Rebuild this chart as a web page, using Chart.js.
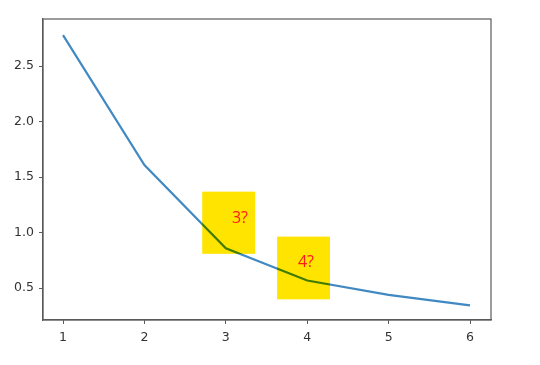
<!DOCTYPE html>
<html>
<head>
<meta charset="utf-8">
<script src="https://cdn.jsdelivr.net/npm/chart.js@4"></script>
<style>
html,body{margin:0;padding:0;background:#fff;}
#wrap{width:540px;height:365px;}
</style>
</head>
<body>
<div id="wrap"><canvas id="c" width="540" height="365"></canvas></div>
<script>
// Data
const kValues = [1, 2, 3, 4, 5, 6];
const scores = [2.78, 1.61, 0.86, 0.57, 0.44, 0.345];
const xTickValues = [1, 2, 3, 4, 5, 6];
const yTickValues = [0.5, 1.0, 1.5, 2.0, 2.5];
// Annotation notes (data coordinates): label, box x range, box y range, text anchor
const noteLabels = ['3?', '4?'];
const noteX = [[2.71, 3.36], [3.63, 4.28]];
const noteY = [[0.81, 1.37], [0.40, 0.965]];
const noteTextX = [3.174, 3.985];
const noteTextY = [1.125, 0.732];

const frameColor = '#5a5a5a';

const notesPlugin = {
  id: 'notes',
  afterDatasetsDraw(chart) {
    const {ctx, scales: {x, y}, chartArea} = chart;
    ctx.save();
    ctx.strokeStyle = frameColor;
    ctx.lineWidth = 1.2;
    ctx.strokeRect(chartArea.left, chartArea.top, chartArea.right - chartArea.left, chartArea.bottom - chartArea.top);
    for (let i = 0; i < noteLabels.length; i++) {
      const x0 = x.getPixelForValue(noteX[i][0]);
      const x1 = x.getPixelForValue(noteX[i][1]);
      const y0 = y.getPixelForValue(noteY[i][1]);
      const y1 = y.getPixelForValue(noteY[i][0]);
      ctx.globalCompositeOperation = 'multiply';
      ctx.fillStyle = '#ffe400';
      ctx.fillRect(x0, y0, x1 - x0, y1 - y0);
      ctx.globalCompositeOperation = 'source-over';
      ctx.fillStyle = '#ff1a1a';
      ctx.font = '16px "Open Sans", "Noto Sans", sans-serif';
      ctx.textAlign = 'center';
      ctx.textBaseline = 'middle';
      ctx.fillText(noteLabels[i], x.getPixelForValue(noteTextX[i]), y.getPixelForValue(noteTextY[i]));
    }
    ctx.restore();
  }
};

new Chart(document.getElementById('c'), {
  type: 'line',
  data: {
    datasets: [{
      data: kValues.map((k, i) => ({x: k, y: scores[i]})),
      borderColor: '#4189c2',
      borderWidth: 2.2,
      pointRadius: 0,
      tension: 0,
      fill: false
    }]
  },
  options: {
    responsive: false,
    animation: false,
    devicePixelRatio: 1,
    layout: {padding: {left: 0, top: 19, right: 49, bottom: 0}},
    plugins: {legend: {display: false}, tooltip: {enabled: false}},
    scales: {
      x: {
        type: 'linear',
        min: 0.754,
        max: 6.258,
        afterFit(s) { s.height = 45; },
        afterBuildTicks(s) { s.ticks = xTickValues.map(v => ({value: v})); },
        grid: {drawOnChartArea: false, drawTicks: true, tickLength: 4, color: frameColor, lineWidth: 1},
        border: {display: true, color: frameColor, width: 1.2},
        ticks: {
          color: '#333333',
          font: {family: 'DejaVu Sans', size: 12.5},
          padding: 6,
          maxRotation: 0,
          callback: v => String(v)
        }
      },
      y: {
        type: 'linear',
        min: 0.214,
        max: 2.925,
        afterFit(s) { s.width = 43; },
        afterBuildTicks(s) { s.ticks = yTickValues.map(v => ({value: v})); },
        grid: {drawOnChartArea: false, drawTicks: true, tickLength: 4, color: frameColor, lineWidth: 1},
        border: {display: true, color: frameColor, width: 1.2},
        ticks: {
          color: '#333333',
          font: {family: 'DejaVu Sans', size: 12.5},
          padding: 5,
          callback: v => Number(v).toFixed(1)
        }
      }
    }
  },
  plugins: [notesPlugin]
});
</script>
</body>
</html>
